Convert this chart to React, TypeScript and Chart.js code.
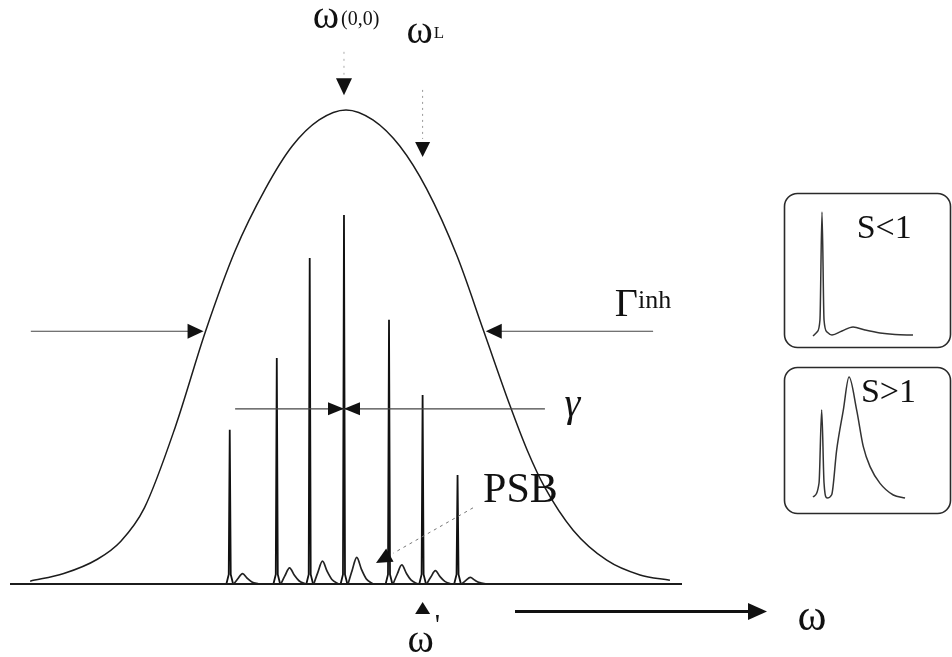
import React, { useEffect, useRef } from "react";
import { Chart, registerables } from "chart.js";

Chart.register(...registerables);

const W = 952;
const H = 657;
const FONT = '"Liberation Serif", "Times New Roman", Times, serif';

// Inhomogeneous envelope (relative intensity vs frequency, arbitrary units)
const envelopeX = [-47.0, -42.0, -37.0, -33.5, -30.0, -25.4, -20.9, -16.5, -12.0, -8.0, -4.0, 0, 4.0, 8.0, 12.0, 16.5, 20.5, 24.4, 27.0, 29.5, 33.8, 38.8, 43.75, 48.2];
const envelopeY = [0.006, 0.022, 0.052, 0.09, 0.16, 0.33, 0.531, 0.70, 0.83, 0.92, 0.975, 0.996, 0.975, 0.92, 0.83, 0.69, 0.531, 0.375, 0.28, 0.205, 0.113, 0.05, 0.019, 0.008];

// Zero-phonon lines and their phonon side bands
const zplPos = [-17.3, -10.3, -5.4, -0.3, 6.4, 11.4, 16.6];
const zplHeight = [0.324, 0.475, 0.685, 0.775, 0.555, 0.397, 0.229];
const psbHeight = [0.022, 0.034, 0.048, 0.056, 0.04, 0.028, 0.014];

// line-shape templates (offset from ZPL, fraction of height)
const zplShapeDx = [-0.5, -0.15, 0, 0.15, 0.5];
const zplShapeBase = [0, 0.02, 1, 0.02, 0];
const psbShapeDx = [0.6, 1.2, 1.9, 2.6, 3.3, 4.3];
const psbShapeFrac = [0, 0.5, 1, 0.55, 0.2, 0];

// Inset spectra (S<1 and S>1)
const inset1X = [1.0, 4.9, 7.8, 9.8, 11.8, 14.7, 19.6, 29.4, 40.2, 52.0, 66.7, 81.4, 99.0];
const inset1Y = [0.008, 0.04, 0.136, 1.0, 0.136, 0.04, 0.016, 0.048, 0.08, 0.056, 0.032, 0.02, 0.016];
const inset2X = [1.0, 6.9, 9.5, 11.8, 14.7, 19.3, 24.2, 30.7, 36.3, 43.8, 50.3, 56.9, 66.7, 79.7, 91.2];
const inset2Y = [0.008, 0.124, 0.727, 0.124, 0.0, 0.027, 0.397, 0.727, 1.0, 0.727, 0.424, 0.259, 0.121, 0.025, 0.0];

const INK = "#1c1c1c";

function pts(xs: number[], ys: number[]) {
  return xs.map((x, i) => ({ x, y: ys[i] }));
}

function text(ctx: CanvasRenderingContext2D, s: string, x: number, y: number, size: number, align: CanvasTextAlign = "left", style = "") {
  ctx.font = `${style}${size}px ${FONT}`;
  ctx.textAlign = align;
  ctx.textBaseline = "alphabetic";
  ctx.fillStyle = "#111";
  ctx.fillText(s, x, y);
}

function seg(ctx: CanvasRenderingContext2D, x1: number, y1: number, x2: number, y2: number, w = 1.2, color = "#333", dash: number[] = []) {
  ctx.save();
  ctx.beginPath();
  ctx.setLineDash(dash);
  ctx.strokeStyle = color;
  ctx.lineWidth = w;
  ctx.moveTo(x1, y1);
  ctx.lineTo(x2, y2);
  ctx.stroke();
  ctx.restore();
}

function head(ctx: CanvasRenderingContext2D, tx: number, ty: number, dx: number, dy: number, len: number, half: number) {
  const n = Math.hypot(dx, dy);
  const ux = dx / n, uy = dy / n;
  const bx = tx - ux * len, by = ty - uy * len;
  ctx.save();
  ctx.beginPath();
  ctx.fillStyle = "#111";
  ctx.moveTo(tx, ty);
  ctx.lineTo(bx - uy * half, by + ux * half);
  ctx.lineTo(bx + uy * half, by - ux * half);
  ctx.closePath();
  ctx.fill();
  ctx.restore();
}

const annotations = {
  id: "annotations",
  afterDatasetsDraw(chart: any) {
    const ctx: CanvasRenderingContext2D = chart.ctx;
    const xs = chart.scales.x, ys = chart.scales.y;
    const X = (v: number) => xs.getPixelForValue(v);
    const Y = (v: number) => ys.getPixelForValue(v);

    // baseline
    seg(ctx, X(-50), Y(0), X(50), Y(0), 2, INK);

    // omega(0,0) marker
    const c0 = zplPos[3];
    seg(ctx, X(c0), Y(1.118), X(c0), Y(1.07), 1, "#aaa", [2, 5]);
    head(ctx, X(c0), Y(1.027), 0, 1, 17, 8);
    ctx.font = `40px ${FONT}`;
    const wO = ctx.measureText("ω").width;
    ctx.font = `20px ${FONT}`;
    const wS = ctx.measureText("(0,0)").width;
    const start = X(0) - (wO + 2 + wS) / 2;
    text(ctx, "ω", start, Y(1.168), 40);
    text(ctx, "(0,0)", start + wO + 2, Y(1.168) - 3, 20);

    // omega L marker
    const cL = zplPos[5];
    seg(ctx, X(cL), Y(1.038), X(cL), Y(0.935), 1, "#999", [2, 4]);
    head(ctx, X(cL), Y(0.897), 0, 1, 15, 7.5);
    text(ctx, "ω", X(cL) - 3, Y(1.137), 40, "center");
    ctx.font = `40px ${FONT}`;
    const wL = ctx.measureText("ω").width;
    text(ctx, "L", X(cL) - 3 + wL / 2 + 1, Y(1.137) - 5, 17);

    // Gamma inh arrows (half maximum)
    const yG = 0.531;
    seg(ctx, X(-46.9), Y(yG), X(-21.2) - 14, Y(yG), 1.2, "#444");
    head(ctx, X(-21.2), Y(yG), 1, 0, 16, 7.5);
    seg(ctx, X(20.8) + 14, Y(yG), X(45.7), Y(yG), 1.2, "#444");
    head(ctx, X(20.8), Y(yG), -1, 0, 16, 7.5);
    text(ctx, "Γ", X(40.0), Y(0.563), 40);
    text(ctx, "inh", X(43.45), Y(0.58), 26);

    // gamma (homogeneous width)
    const yg = 0.368;
    seg(ctx, X(-16.5), Y(yg), X(29.6), Y(yg), 1.1, "#444");
    head(ctx, X(c0), Y(yg), 1, 0, 16, 6.5);
    head(ctx, X(c0), Y(yg), -1, 0, 16, 6.5);
    text(ctx, "γ", X(32.5), Y(0.353), 40, "left", "italic ");

    // PSB label and pointer
    text(ctx, "PSB", X(20.39), Y(0.172), 42);
    const tipX = X(4.46), tipY = Y(0.044);
    const fx = X(18.9), fy = Y(0.16);
    seg(ctx, fx, fy, tipX + (fx - tipX) * 0.18, tipY + (fy - tipY) * 0.18, 1, "#777", [3, 4]);
    head(ctx, tipX, tipY, tipX - fx, tipY - fy, 16, 7.5);

    // omega' marker
    head(ctx, X(cL), Y(-0.038), 0, -1, 12, 7.5);
    text(ctx, "'", X(13.2), Y(-0.106), 30);
    text(ctx, "ω", X(cL) - 2, Y(-0.143), 40, "center");

    // frequency axis arrow
    const ya = -0.058;
    seg(ctx, X(25.15), Y(ya), X(62.65) - 16, Y(ya), 3, "#111");
    head(ctx, X(62.65), Y(ya), 1, 0, 19, 8.5);
    text(ctx, "ω", X(69.35), Y(-0.097), 44, "center");
  },
};

function boxPlugin(label: string, lx: number, ly: number) {
  return {
    id: "box",
    afterDatasetsDraw(chart: any) {
      const ctx: CanvasRenderingContext2D = chart.ctx;
      const w = chart.width, h = chart.height;
      ctx.save();
      ctx.beginPath();
      ctx.strokeStyle = "#2a2a2a";
      ctx.lineWidth = 1.6;
      (ctx as any).roundRect(1.5, 1.5, w - 3, h - 3, 13);
      ctx.stroke();
      ctx.restore();
      const xs = chart.scales.x, ys = chart.scales.y;
      text(ctx, label, xs.getPixelForValue(lx), ys.getPixelForValue(ly), 34);
    },
  };
}

function insetConfig(xs: number[], ys: number[], pad: any, label: string, lx: number, ly: number): any {
  return {
    type: "line",
    data: {
      datasets: [
        {
          data: pts(xs, ys),
          borderColor: "#333",
          borderWidth: 1.5,
          pointRadius: 0,
          cubicInterpolationMode: "monotone",
          clip: false,
        },
      ],
    },
    options: {
      responsive: false,
      animation: false,
      devicePixelRatio: 1,
      events: [],
      layout: { padding: pad },
      scales: {
        x: { type: "linear", min: 0, max: 100, display: false },
        y: { min: 0, max: 1, display: false },
      },
      plugins: { legend: { display: false }, tooltip: { enabled: false } },
    },
    plugins: [boxPlugin(label, lx, ly)],
  };
}

function mainConfig(): any {
  const datasets: any[] = [
    {
      data: pts(envelopeX, envelopeY),
      borderColor: INK,
      borderWidth: 1.5,
      pointRadius: 0,
      cubicInterpolationMode: "monotone",
      clip: false,
    },
  ];
  zplPos.forEach((x0, i) => {
    datasets.push({
      data: zplShapeDx.map((dx, k) => ({ x: x0 + dx, y: k === 2 ? zplHeight[i] : zplShapeBase[k] })),
      borderColor: "#111",
      borderWidth: 1.8,
      pointRadius: 0,
      tension: 0,
      clip: false,
    });
    datasets.push({
      data: psbShapeDx.map((dx, k) => ({ x: x0 + dx, y: psbHeight[i] * psbShapeFrac[k] })),
      borderColor: "#222",
      borderWidth: 1.7,
      pointRadius: 0,
      cubicInterpolationMode: "monotone",
      clip: false,
    });
  });
  return {
    type: "line",
    data: { datasets },
    options: {
      responsive: false,
      animation: false,
      devicePixelRatio: 1,
      events: [],
      layout: { padding: { left: 10, right: 270, top: 108, bottom: 73 } },
      scales: {
        x: { type: "linear", min: -50, max: 50, display: false },
        y: { min: 0, max: 1, display: false },
      },
      plugins: { legend: { display: false }, tooltip: { enabled: false } },
    },
    plugins: [annotations],
  };
}

export default function App() {
  const mainRef = useRef<HTMLCanvasElement>(null);
  const in1Ref = useRef<HTMLCanvasElement>(null);
  const in2Ref = useRef<HTMLCanvasElement>(null);

  useEffect(() => {
    const charts: Chart[] = [];
    if (mainRef.current) charts.push(new Chart(mainRef.current, mainConfig()));
    if (in1Ref.current)
      charts.push(new Chart(in1Ref.current, insetConfig(inset1X, inset1Y, { left: 29, right: 38, top: 20, bottom: 12 }, "S<1", 43.8, 0.792)));
    if (in2Ref.current)
      charts.push(new Chart(in2Ref.current, insetConfig(inset2X, inset2Y, { left: 29, right: 38, top: 11, bottom: 17 }, "S>1", 48.0, 0.793)));
    return () => charts.forEach((c) => c.destroy());
  }, []);

  return (
    <div style={{ position: "fixed", left: 0, top: 0, width: W, height: H, background: "#fff", overflow: "hidden" }}>
      <canvas ref={mainRef} width={W} height={H} style={{ position: "absolute", left: 0, top: 0 }} />
      <canvas ref={in1Ref} width={169} height={157} style={{ position: "absolute", left: 783, top: 192 }} />
      <canvas ref={in2Ref} width={169} height={149} style={{ position: "absolute", left: 783, top: 366 }} />
    </div>
  );
}
